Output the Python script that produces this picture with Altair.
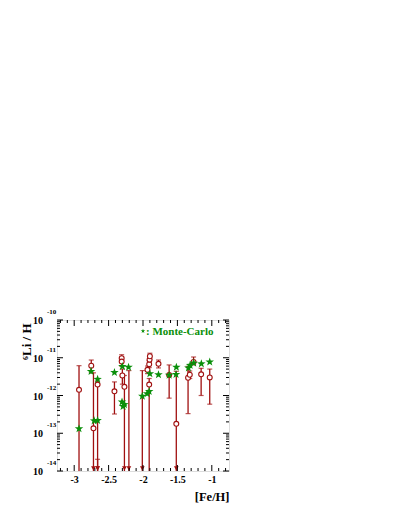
import altair as alt
import pandas as pd

obs_feh = [-2.93, -2.752, -2.72, -2.66, -2.66, -2.415, -2.31, -2.31, -2.30, -2.27, -2.205,
           -2.01, -1.935, -1.91, -1.905, -1.90, -1.91, -1.775, -1.62, -1.516, -1.345,
           -1.32, -1.265, -1.155, -1.03]
obs_log = [-11.85, -11.21, -12.87, -11.71, None, -11.89, -11.01, -11.10, -11.47, -11.77, None,
           None, -11.32, -11.17, -11.05, -10.96, -11.71, -11.16, -11.46, -12.75, -11.53,
           -11.45, -11.11, -11.44, -11.52]
obs_hi = [-11.21, -11.06, -11.40, -11.62, -13.69, -11.64, -10.92, -10.98, -11.30, -11.47, -11.34,
          -11.34, -11.22, -11.08, -10.95, -10.88, -11.55, -11.06, -11.19, -11.36, -11.23,
          -11.35, -10.98, -11.28, -11.30]
obs_lo = [-14.0, -11.40, -14.0, -14.0, -14.0, -12.49, -11.10, -11.22, -11.70, -14.0, -14.0,
          -14.0, -11.42, -11.26, -11.14, -11.04, -14.0, -11.27, -12.07, -14.0, -12.48,
          -11.55, -11.19, -12.00, -12.23]
obs_limit = [False, False, True, True, True, False, False, False, False, True, True,
             True, False, False, False, False, False, False, False, True, False,
             False, False, False, False]

# ---- Monte-Carlo points ----
mc_feh = [-2.93, -2.755, -2.71, -2.66, -2.66, -2.415, -2.30, -2.21, -2.305, -2.29, -2.27,
          -2.01, -1.94, -1.91, -1.90, -1.775, -1.62, -1.515, -1.52, -1.34, -1.315,
          -1.263, -1.152, -1.03]
mc_log = [-12.88, -11.36, -12.67, -12.66, -11.57, -11.39, -11.23, -11.25, -12.17, -12.29, -12.24,
          -12.02, -11.95, -11.89, -11.42, -11.45, -11.46, -11.25, -11.44, -11.27, -11.20,
          -11.14, -11.16, -11.11]

x_major = [-3, -2.5, -2, -1.5, -1]
x_minor = [-3.2, -3.1, -2.9, -2.8, -2.7, -2.6, -2.4, -2.3, -2.2, -2.1, -1.9, -1.8, -1.7,
           -1.6, -1.4, -1.3, -1.2, -1.1, -0.9, -0.8]
y_decades = [-14, -13, -12, -11, -10]
y_minor_mult = [2, 3, 4, 5, 6, 7, 8, 9]
legend_label = ": Monte-Carlo"
x_title = "[Fe/H]"
y_title = "⁶Li / H"

RED = "#a01010"
GREEN = "#0a8f0a"
FONT = "Liberation Serif"
W, H = 172, 151
STAR = ("M0,-1L0.235,-0.324L0.951,-0.309L0.38,0.124L0.588,0.809L0,0.4"
        "L-0.588,0.809L-0.38,0.124L-0.951,-0.309L-0.235,-0.324Z")

obs = pd.DataFrame({
    "feh": obs_feh,
    "v": [10 ** v if v is not None else None for v in obs_log],
    "hi": [10 ** v for v in obs_hi],
    "lo": [10 ** v for v in obs_lo],
    "limit": obs_limit,
})
circles = obs.dropna(subset=["v"])
caps = pd.concat([
    pd.DataFrame({"feh": obs["feh"], "v": obs["hi"]}),
    pd.DataFrame({"feh": obs["feh"][obs["lo"] > 1.01e-14], "v": obs["lo"][obs["lo"] > 1.01e-14]}),
])
arrows = pd.DataFrame({"feh": obs["feh"][obs["limit"]], "v": 10 ** -13.93})
mc = pd.DataFrame({"feh": mc_feh, "v": [10 ** v for v in mc_log]})

xscale = alt.Scale(domain=[-3.25, -0.75], nice=False, zero=False)
yscale = alt.Scale(type="log", domain=[1e-14, 1e-10], nice=False)
xaxis = alt.Axis(values=x_major, labelExpr="toString(datum.value)", ticks=False, tickSize=0,
                 domain=False, grid=False, labelFont=FONT, labelFontWeight="bold",
                 labelFontSize=10, labelPadding=3, labelColor="black",
                 title=x_title, titleFont=FONT, titleFontWeight="bold", titleFontSize=12.5,
                 titleX=W, titleY=29, titleAlign="right", titleBaseline="alphabetic",
                 titleColor="black")
yaxis = alt.Axis(labels=False, ticks=False, domain=False, grid=False,
                 title=y_title, titleFont=FONT, titleFontWeight="bold", titleFontSize=13,
                 titleAngle=270, titleX=-31, titleY=3, titleAlign="right",
                 titleBaseline="middle", titleColor="black")


def X(f):
    return alt.X(f"{f}:Q", scale=xscale, axis=xaxis)


def Y(f):
    return alt.Y(f"{f}:Q", scale=yscale, axis=yaxis)


bars = alt.Chart(obs).mark_rule(color=RED, strokeWidth=1.3).encode(x=X("feh"), y=Y("lo"), y2="hi")
capm = alt.Chart(caps).mark_tick(color=RED, orient="horizontal", size=5, thickness=1.2).encode(
    x=X("feh"), y=Y("v"))
arr = alt.Chart(arrows).mark_point(shape="triangle-down", filled=True, color=RED, size=22,
                                   opacity=1).encode(x=X("feh"), y=Y("v"))
circ = alt.Chart(circles).mark_point(shape="circle", fill="white", stroke=RED, strokeWidth=1.1,
                                     size=24, opacity=1, fillOpacity=1).encode(x=X("feh"), y=Y("v"))
stars = alt.Chart(mc).mark_point(shape=STAR, filled=True, color=GREEN, size=80,
                                 opacity=1).encode(x=X("feh"), y=Y("v"))

# ticks drawn inward on all four sides
xmaj = pd.DataFrame({"feh": x_major})
xmin = pd.DataFrame({"feh": x_minor})
ymaj = pd.DataFrame({"v": [10.0 ** e for e in y_decades]})
ymin = pd.DataFrame({"v": [m * 10.0 ** e for e in y_decades[:-1] for m in y_minor_mult]})

tick_layers = []
for df, L in ((xmaj, 6), (xmin, 3)):
    tick_layers.append(alt.Chart(df).mark_rule(color="black", strokeWidth=1).encode(
        x=X("feh"), y=alt.value(H), y2=alt.value(H - L)))
    tick_layers.append(alt.Chart(df).mark_rule(color="black", strokeWidth=1).encode(
        x=X("feh"), y=alt.value(0), y2=alt.value(L)))
for df, L in ((ymaj, 6), (ymin, 3)):
    tick_layers.append(alt.Chart(df).mark_rule(color="black", strokeWidth=1).encode(
        y=Y("v"), x=alt.value(0), x2=alt.value(L)))
    tick_layers.append(alt.Chart(df).mark_rule(color="black", strokeWidth=1).encode(
        y=Y("v"), x=alt.value(W), x2=alt.value(W - L)))

ylab = pd.DataFrame({"v": [10.0 ** e for e in y_decades], "exp": [str(e) for e in y_decades]})
ten = alt.Chart(ylab).mark_text(align="right", baseline="middle", dy=1, font=FONT,
                                fontWeight="bold", fontSize=10, color="black").encode(
    x=alt.value(-14), y=Y("v"), text=alt.value("10"))
expo = alt.Chart(ylab).mark_text(align="left", baseline="middle", dy=-8, font=FONT,
                                 fontWeight="bold", fontSize=7, color="black").encode(
    x=alt.value(-10), y=Y("v"), text="exp:N")

leg = pd.DataFrame({"label": [legend_label]})
leg_star = alt.Chart(leg).mark_point(shape=STAR, filled=True, color=GREEN, size=22,
                                     opacity=1).encode(x=alt.value(86), y=alt.value(11))
leg_text = alt.Chart(leg).mark_text(align="left", baseline="middle", font=FONT, fontWeight="bold",
                                    fontSize=11, color=GREEN).encode(
    x=alt.value(89), y=alt.value(12), text="label:N")

chart = alt.layer(bars, capm, arr, circ, stars, *tick_layers, ten, expo, leg_star, leg_text).properties(
    width=W, height=H,
    autosize=alt.AutoSizeParams(type="none"),
    padding={"left": 49, "top": 312, "right": 20, "bottom": 40},
).configure_view(stroke="black", strokeWidth=1.5).configure(background="white")

chart.save("out.html", embed_options={"renderer": "svg", "actions": False})
